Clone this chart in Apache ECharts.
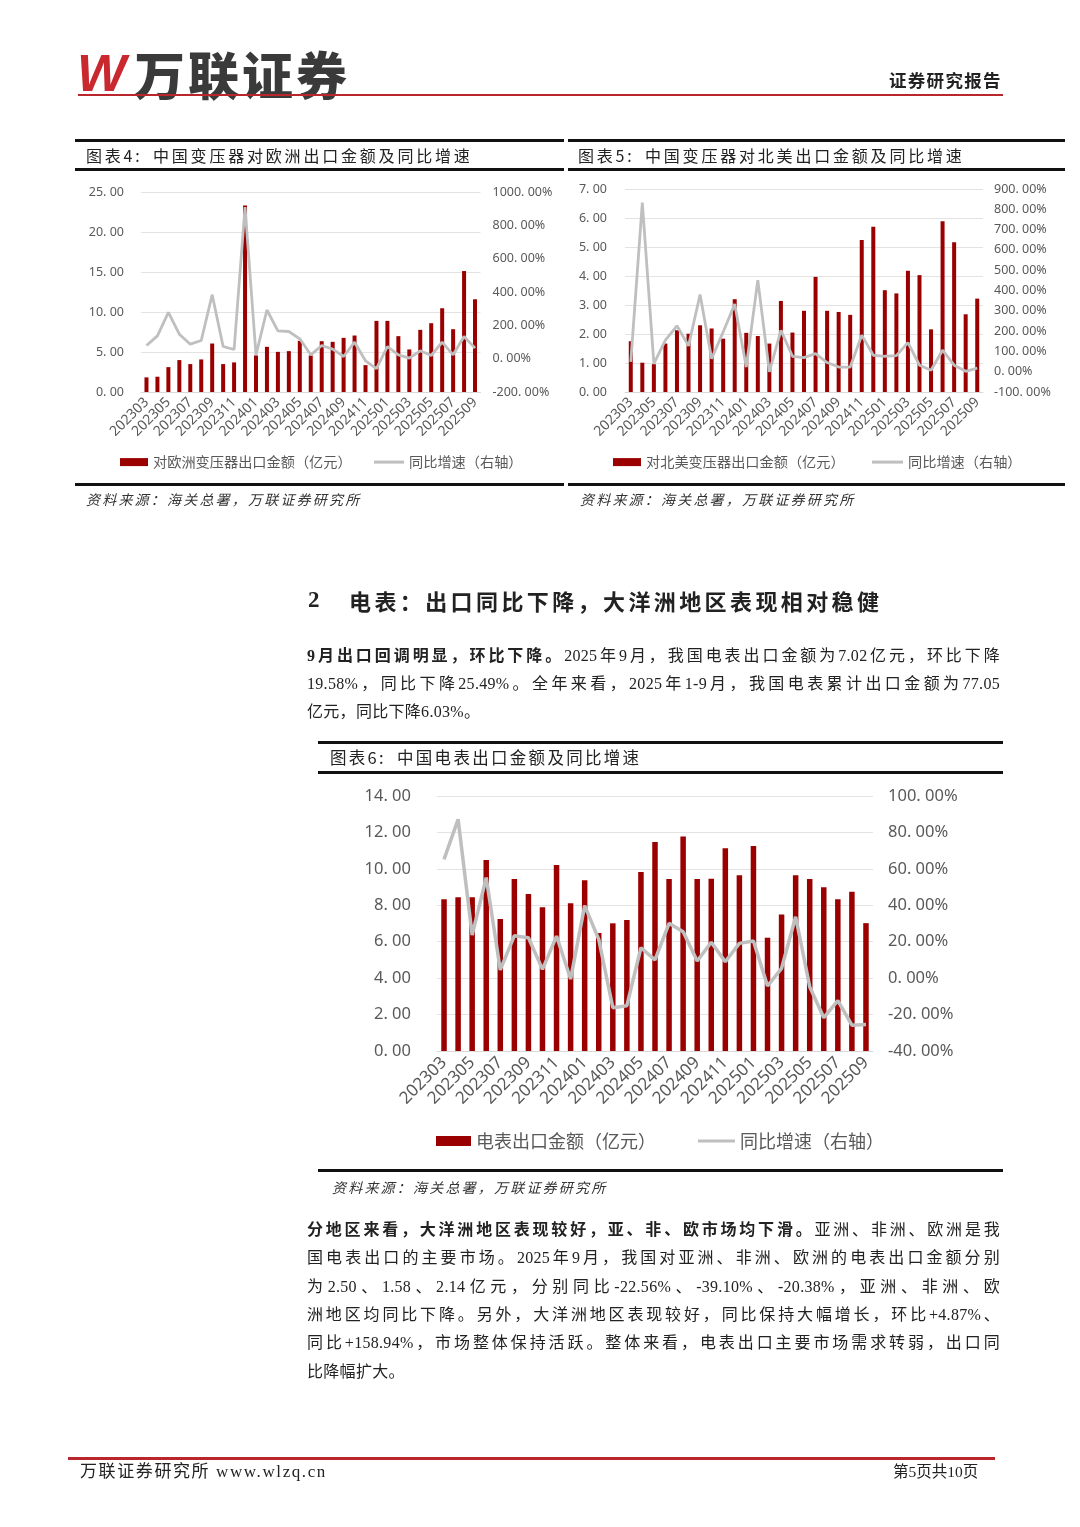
<!DOCTYPE html>
<html><head><meta charset="utf-8">
<script src="https://cdn.jsdelivr.net/npm/echarts@6/dist/echarts.min.js"></script>
<style>
html,body{margin:0;padding:0;background:#fff;}
#page{position:relative;width:1080px;height:1527px;overflow:hidden;font-family:"Liberation Serif","Noto Sans CJK SC",serif;color:#222;}
#chart{position:absolute;left:0;top:0;width:1080px;height:1527px;z-index:1;}
.t{position:absolute;white-space:nowrap;z-index:2;}
.hr{position:absolute;background:#111;z-index:2;}
.ln{position:absolute;left:307px;width:693px;height:28px;line-height:28px;font-size:16px;text-align:justify;text-align-last:justify;white-space:nowrap;z-index:2;letter-spacing:0.3px;}
.ln.last{text-align-last:left;}
b{font-weight:700;}
.src{font-style:italic;font-size:14px;letter-spacing:2.2px;color:#333;font-family:"Noto Sans CJK SC",sans-serif;}
.ttl{font-size:16px;letter-spacing:2.8px;color:#222;font-family:"Noto Sans CJK SC",sans-serif;}
</style></head>
<body>
<div id="page">
  <!-- header -->
  <div class="t" style="left:77px;top:42px;font-family:'Liberation Sans',sans-serif;font-weight:700;font-style:italic;font-size:52px;line-height:62px;color:#c8282e;letter-spacing:-2px;">W</div>
  <div class="t" style="left:134px;top:44px;font-family:'Noto Sans CJK SC',sans-serif;font-weight:900;font-size:51px;line-height:58px;color:#3a3a3a;letter-spacing:3px;">万联证券</div>
  <div class="t" style="left:889px;top:68px;font-family:'Noto Sans CJK SC',sans-serif;font-weight:700;font-size:17.5px;line-height:24px;color:#222;letter-spacing:1.3px;">证券研究报告</div>
  <div class="hr" style="left:78px;top:94px;width:925px;height:2px;background:#b9262b;"></div>

  <!-- chart 4 / 5 boxes -->
  <div class="hr" style="left:75px;top:139px;width:489px;height:2.5px;"></div>
  <div class="hr" style="left:568px;top:139px;width:497px;height:2.5px;"></div>
  <div class="t ttl" style="left:86px;top:144px;line-height:22px;">图表4:</div>
  <div class="t ttl" style="left:153px;top:144px;line-height:22px;">中国变压器对欧洲出口金额及同比增速</div>
  <div class="t ttl" style="left:578px;top:144px;line-height:22px;">图表5:</div>
  <div class="t ttl" style="left:645px;top:144px;line-height:22px;">中国变压器对北美出口金额及同比增速</div>
  <div class="hr" style="left:75px;top:168px;width:489px;height:2.5px;"></div>
  <div class="hr" style="left:568px;top:168px;width:497px;height:2.5px;"></div>
  <div class="hr" style="left:75px;top:483px;width:489px;height:2.5px;"></div>
  <div class="hr" style="left:568px;top:483px;width:497px;height:2.5px;"></div>
  <div class="t src" style="left:86px;top:488px;line-height:22px;">资料来源：海关总署，万联证券研究所</div>
  <div class="t src" style="left:580px;top:488px;line-height:22px;">资料来源：海关总署，万联证券研究所</div>

  <!-- section heading -->
  <div class="t" style="left:308px;top:585px;font-size:23px;line-height:30px;font-weight:700;">2</div>
  <div class="t" style="left:349px;top:585px;font-size:22px;line-height:30px;font-weight:700;letter-spacing:3.4px;font-family:'Noto Sans CJK SC',sans-serif;">电表：出口同比下降，大洋洲地区表现相对稳健</div>

  <!-- paragraph 1 -->
  <div class="ln" style="top:642px;"><b>9月出口回调明显，环比下降。</b>2025年9月，我国电表出口金额为7.02亿元，环比下降</div>
  <div class="ln" style="top:670px;">19.58%，同比下降25.49%。全年来看，2025年1-9月，我国电表累计出口金额为77.05</div>
  <div class="ln last" style="top:698px;">亿元，同比下降6.03%。</div>

  <!-- chart 6 box -->
  <div class="hr" style="left:318px;top:741px;width:685px;height:3px;"></div>
  <div class="t ttl" style="left:330px;top:746px;line-height:22px;font-size:16.5px;letter-spacing:2.3px;">图表6:</div>
  <div class="t ttl" style="left:397px;top:746px;line-height:22px;font-size:16.5px;letter-spacing:2.3px;">中国电表出口金额及同比增速</div>
  <div class="hr" style="left:318px;top:771px;width:685px;height:3px;"></div>
  <div class="hr" style="left:318px;top:1169px;width:685px;height:2.5px;"></div>
  <div class="t src" style="left:332px;top:1176px;line-height:22px;">资料来源：海关总署，万联证券研究所</div>

  <!-- paragraph 2 -->
  <div class="ln" style="top:1216px;"><b>分地区来看，大洋洲地区表现较好，亚、非、欧市场均下滑。</b>亚洲、非洲、欧洲是我</div>
  <div class="ln" style="top:1244px;">国电表出口的主要市场。2025年9月，我国对亚洲、非洲、欧洲的电表出口金额分别</div>
  <div class="ln" style="top:1273px;">为2.50、1.58、2.14亿元，分别同比-22.56%、-39.10%、-20.38%，亚洲、非洲、欧</div>
  <div class="ln" style="top:1301px;">洲地区均同比下降。另外，大洋洲地区表现较好，同比保持大幅增长，环比+4.87%、</div>
  <div class="ln" style="top:1329px;">同比+158.94%，市场整体保持活跃。整体来看，电表出口主要市场需求转弱，出口同</div>
  <div class="ln last" style="top:1358px;">比降幅扩大。</div>

  <!-- footer -->
  <div class="hr" style="left:68px;top:1457px;width:927px;height:3px;background:#b9262b;"></div>
  <div class="t" style="left:80px;top:1461px;font-size:17px;line-height:22px;letter-spacing:1.6px;">万联证券研究所 www.wlzq.cn</div>
  <div class="t" style="left:893px;top:1461px;font-size:15.5px;line-height:22px;">第5页共10页</div>

  <div id="chart"></div>
</div>
<script>
const categories = ['202303','202304','202305','202306','202307','202308','202309','202310','202311','202312',
  '202401','202402','202403','202404','202405','202406','202407','202408','202409','202410','202411','202412',
  '202501','202502','202503','202504','202505','202506','202507','202508','202509'];

// 图表4: 对欧洲变压器出口金额（亿元）及同比增速（%）
const euExport = [1.83,1.91,3.11,3.99,3.49,4.07,6.06,3.49,3.70,23.30,4.57,5.65,5.02,5.11,6.40,4.57,6.35,6.27,6.77,7.06,3.36,8.89,8.89,6.98,5.32,7.77,8.60,10.47,7.85,15.12,11.59];
const euYoY = [79,137,278,147,87,109,384,73,55,910,23,292,167,163,119,23,79,57,13,99,-13,-60,73,23,3,47,19,99,23,133,63];

// 图表5: 对北美变压器出口金额（亿元）及同比增速（%）
const naExport = [1.75,1.01,0.96,1.67,2.13,2.01,2.30,2.19,1.84,3.20,2.04,1.93,1.67,3.14,2.05,2.80,3.97,2.80,2.76,2.66,5.24,5.70,3.51,3.40,4.18,4.03,2.16,5.89,5.16,2.68,3.22];
const naYoY = [48,833,40,155,226,127,380,64,196,333,23,451,-1,204,76,69,89,45,23,23,180,81,76,79,143,32,7,106,32,2,18];

// 图表6: 电表出口金额（亿元）及同比增速（%）
const meterExport = [8.33,8.44,8.44,10.49,7.25,9.44,8.62,7.89,10.21,8.11,9.37,6.48,7.01,7.19,9.83,11.47,9.44,11.77,9.44,9.46,11.13,9.65,11.26,6.22,7.50,9.65,9.44,8.99,8.33,8.75,7.02];
const meterYoY = [65.2,87.2,23.7,55.2,4.5,23.3,22.2,4.8,23.1,-0.5,39.8,21.3,-16.2,-15.1,16.7,10.0,30.1,25.5,9.4,19.7,9.0,19.1,20.4,-4.3,5.4,33.7,-4.7,-21.7,-12.4,-25.8,-25.49];

const barNames = ['对欧洲变压器出口金额（亿元）','对北美变压器出口金额（亿元）','电表出口金额（亿元）'];
const lineNames = ['同比增速（右轴）','同比增速（右轴）\u200b','同比增速（右轴）\u200b\u200b'];

const BAR = '#9b0000', LINE = '#bfbfbf', LBL = '#595959', GRID = '#e3e3e3';
const FONT = '"Noto Sans","Noto Sans CJK SC",sans-serif';
const fmtNum = v => v.toFixed(2).replace('.', '. ');
const fmtPct = v => v.toFixed(2).replace('.', '. ') + '%';

const specs = [
  {grid:{left:141, top:192, width:339.5, height:200}, l:[0,25,5], r:[-200,1000,200], yl:12.5, xl:14, lm:17, rm:12, xm:8, bw:4, lw:2.8, bars:euExport, yoy:euYoY},
  {grid:{left:625, top:189, width:358, height:203}, l:[0,7,1], r:[-100,900,100], yl:12.5, xl:14, lm:18, rm:11, xm:8, bw:4, lw:2.8, bars:naExport, yoy:naYoY},
  {grid:{left:437, top:796, width:436, height:255}, l:[0,14,2], r:[-40,100,20], yl:16.5, xl:17, lm:26, rm:15, xm:9, bw:5.5, lw:3.5, bars:meterExport, yoy:meterYoY}
];

const option = {animation:false, grid:[], xAxis:[], yAxis:[], series:[], legend:[]};
specs.forEach((s, i) => {
  option.grid.push(Object.assign({containLabel:false, outerBoundsMode:'none'}, s.grid));
  option.xAxis.push({type:'category', gridIndex:i, data:categories, boundaryGap:true,
    axisTick:{show:false}, axisLine:{show:true, lineStyle:{color:'#d9d9d9'}},
    axisLabel:{interval:1, rotate:45, color:LBL, fontSize:s.xl, fontFamily:FONT, margin:s.xm}});
  option.yAxis.push({type:'value', gridIndex:i, position:'left', min:s.l[0], max:s.l[1], interval:s.l[2],
    axisLine:{show:false}, axisTick:{show:false}, splitLine:{show:true, lineStyle:{color:GRID, width:1}},
    axisLabel:{formatter:fmtNum, color:LBL, fontSize:s.yl, fontFamily:FONT, margin:s.lm}});
  option.yAxis.push({type:'value', gridIndex:i, position:'right', min:s.r[0], max:s.r[1], interval:s.r[2],
    axisLine:{show:false}, axisTick:{show:false}, splitLine:{show:false},
    axisLabel:{formatter:fmtPct, color:LBL, fontSize:s.yl, fontFamily:FONT, margin:s.rm}});
  option.series.push({type:'bar', name:barNames[i], xAxisIndex:i, yAxisIndex:2*i, data:s.bars,
    barWidth:s.bw, itemStyle:{color:BAR}, color:BAR});
  option.series.push({type:'line', name:lineNames[i], xAxisIndex:i, yAxisIndex:2*i+1, data:s.yoy,
    symbol:'none', showSymbol:false, color:LINE, lineStyle:{color:LINE, width:s.lw}, z:3});
});

const legText = (fs) => ({fontSize:fs, color:LBL, fontFamily:'"Noto Sans CJK SC",sans-serif'});
option.legend = [
  {data:[barNames[0]], left:120, top:455, padding:0, icon:'rect', itemWidth:28, itemHeight:8, textStyle:legText(14.2), selectedMode:false},
  {data:[lineNames[0]], left:374, top:455, padding:0, icon:'rect', itemWidth:30, itemHeight:3, itemStyle:{color:LINE}, textStyle:legText(14.2), selectedMode:false},
  {data:[barNames[1]], left:613, top:455, padding:0, icon:'rect', itemWidth:28, itemHeight:8, textStyle:legText(14.2), selectedMode:false},
  {data:[lineNames[1]], left:872, top:455, padding:0, icon:'rect', itemWidth:31, itemHeight:3, itemStyle:{color:LINE}, textStyle:legText(14.2), selectedMode:false},
  {data:[barNames[2]], left:436, top:1132, padding:0, icon:'rect', itemWidth:35, itemHeight:10, textStyle:legText(18), selectedMode:false},
  {data:[lineNames[2]], left:698, top:1132, padding:0, icon:'rect', itemWidth:37, itemHeight:3, itemStyle:{color:LINE}, textStyle:legText(18), selectedMode:false}
];

const chart = echarts.init(document.getElementById('chart'), null, {renderer:'canvas'});
chart.setOption(option);
</script>
</body></html>
